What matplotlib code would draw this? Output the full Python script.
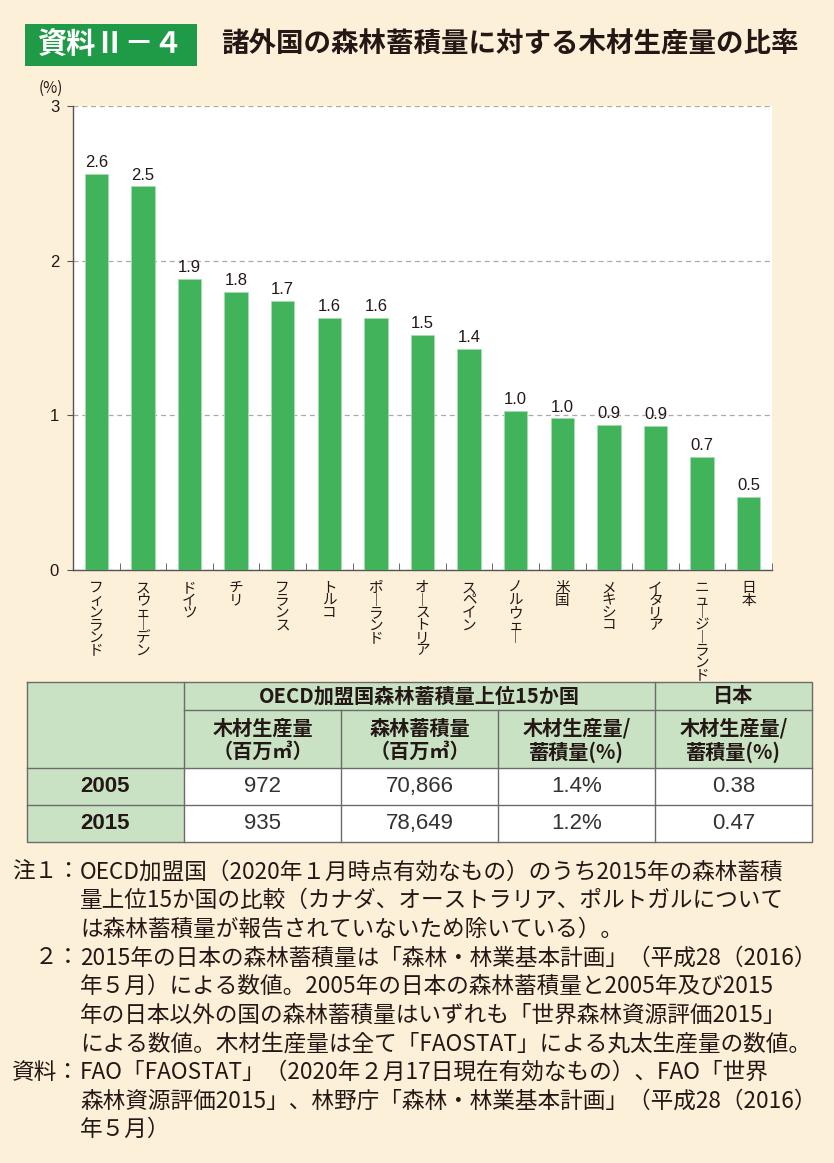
import matplotlib.pyplot as plt
from matplotlib.patches import Rectangle
import numpy as np

plt.rcParams['font.family'] = ['Noto Sans CJK JP', 'DejaVu Sans']
NUM_FONT = ['Liberation Sans', 'DejaVu Sans']

# bar chart data
countries = ['フィンランド', 'スウェーデン', 'ドイツ', 'チリ', 'フランス', 'トルコ', 'ポーランド',
             'オーストリア', 'スペイン', 'ノルウェー', '米国', 'メキシコ', 'イタリア',
             'ニュージーランド', '日本']
ratio = [2.56, 2.48, 1.88, 1.80, 1.74, 1.63, 1.63, 1.52, 1.43, 1.03, 0.98, 0.94, 0.93, 0.73, 0.47]

# table data
years = ['2005', '2015']
wood_prod = ['972', '935']
forest_stock = ['70,866', '78,649']
oecd_ratio = ['1.4%', '1.2%']
japan_ratio = ['0.38', '0.47']

notes = [
    ('注１：', ['OECD加盟国（2020年１月時点有効なもの）のうち2015年の森林蓄積',
              '量上位15か国の比較（カナダ、オーストラリア、ポルトガルについて',
              'は森林蓄積量が報告されていないため除いている）。']),
    ('２：', ['2015年の日本の森林蓄積量は「森林・林業基本計画」（平成28（2016）',
             '年５月）による数値。2005年の日本の森林蓄積量と2005年及び2015',
             '年の日本以外の国の森林蓄積量はいずれも「世界森林資源評価2015」',
             'による数値。木材生産量は全て「FAOSTAT」による丸太生産量の数値。']),
    ('資料：', ['FAO「FAOSTAT」（2020年２月17日現在有効なもの）、FAO「世界',
              '森林資源評価2015」、林野庁「森林・林業基本計画」（平成28（2016）',
              '年５月）']),
]

W, H = 834, 1163
BG = '#fdf0d8'
GREEN = '#41b35b'
TXT = '#231815'
HEAD = '#c9e2c3'


def fx(px):
    return px / W


def fy(py):
    return 1 - py / H


fig = plt.figure(figsize=(W / 100, H / 100), dpi=100, facecolor=BG)

# title block
fig.patches.append(Rectangle((fx(25), fy(66)), fx(197) - fx(25), fy(24) - fy(66),
                             transform=fig.transFigure, facecolor='#1f9b48', edgecolor='none'))
fig.text(fx(111), fy(45), '資料Ⅱ－４', color='white', fontsize=21, fontweight='bold',
         ha='center', va='center')
fig.text(fx(221), fy(45), '諸外国の森林蓄積量に対する木材生産量の比率', color=TXT,
         fontsize=19.8, fontweight='bold', ha='left', va='center')

# bar chart
ax = fig.add_axes([fx(73), fy(570), fx(772) - fx(73), fy(106) - fy(570)])
ax.set_facecolor('white')
x = np.arange(len(countries))
ax.bar(x, ratio, width=0.5, color=GREEN, edgecolor='#a8dcb2', linewidth=0.6, zorder=3)
for xi, v in zip(x, ratio):
    ax.text(xi, v + 0.025, f'{v:.1f}', ha='center', va='bottom', fontsize=12,
            family=NUM_FONT, color=TXT)

ax.set_xlim(-0.5, len(countries) - 0.5)
ax.set_ylim(0, 3)
ax.set_yticks([0, 1, 2, 3])
ax.set_yticklabels(['0', '1', '2', '3'], fontsize=12, family=NUM_FONT, color=TXT)
ax.tick_params(axis='y', length=4, color='#555555', pad=6)
ax.grid(axis='y', linestyle=(0, (4, 3)), color='#aaaaaa', linewidth=0.9, zorder=1)

vert_labels = ['\n'.join(c.replace('ー', '︱')) for c in countries]
ax.set_xticks(x)
ax.set_xticklabels(vert_labels, fontsize=10.5, color=TXT, linespacing=0.86, va='top')
ax.set_xticks(np.arange(len(countries)) + 0.5, minor=True)
ax.tick_params(axis='x', which='major', length=0, pad=8)
ax.tick_params(axis='x', which='minor', direction='in', length=5, color='#555555')

for s in ['top', 'right']:
    ax.spines[s].set_visible(False)
for s in ['left', 'bottom']:
    ax.spines[s].set_color('#555555')
    ax.spines[s].set_linewidth(1.0)

fig.text(fx(51), fy(88), '(%)', fontsize=11, ha='center', va='center', color=TXT)

# table (drawn in pixel coordinates)
tax = fig.add_axes([0, 0, 1, 1])
tax.set_xlim(0, W)
tax.set_ylim(H, 0)
tax.axis('off')

cx = [27, 184, 341, 498, 655, 812]
ry = [682, 710, 768, 805, 842]
tax.add_patch(Rectangle((cx[0], ry[0]), cx[-1] - cx[0], ry[2] - ry[0], facecolor=HEAD, edgecolor='none'))
tax.add_patch(Rectangle((cx[0], ry[2]), cx[1] - cx[0], ry[4] - ry[2], facecolor=HEAD, edgecolor='none'))
tax.add_patch(Rectangle((cx[1], ry[2]), cx[-1] - cx[1], ry[4] - ry[2], facecolor='white', edgecolor='none'))

lc = '#6b6b6b'
lw = 1.0
tax.plot([cx[0], cx[-1], cx[-1], cx[0], cx[0]], [ry[0], ry[0], ry[4], ry[4], ry[0]], color=lc, lw=lw)
tax.plot([cx[1], cx[-1]], [ry[1], ry[1]], color=lc, lw=lw)
for yy in ry[2:4]:
    tax.plot([cx[0], cx[-1]], [yy, yy], color=lc, lw=lw)
for xx in [cx[1], cx[4]]:
    tax.plot([xx, xx], [ry[0], ry[4]], color=lc, lw=lw)
for xx in cx[2:4]:
    tax.plot([xx, xx], [ry[1], ry[4]], color=lc, lw=lw)

hs = 14.5
tax.text((cx[1] + cx[4]) / 2, (ry[0] + ry[1]) / 2, 'OECD加盟国森林蓄積量上位15か国',
         ha='center', va='center', fontsize=hs, fontweight='bold', color=TXT)
tax.text((cx[4] + cx[5]) / 2, (ry[0] + ry[1]) / 2, '日本',
         ha='center', va='center', fontsize=hs, fontweight='bold', color=TXT)
sub_heads = ['木材生産量\n（百万㎥）', '森林蓄積量\n（百万㎥）', '木材生産量/\n蓄積量(%)', '木材生産量/\n蓄積量(%)']
for i, t in enumerate(sub_heads):
    tax.text((cx[i + 1] + cx[i + 2]) / 2, (ry[1] + ry[2]) / 2 + 1, t, ha='center', va='center',
             fontsize=hs, fontweight='bold', color=TXT, linespacing=1.15)

for r in range(len(years)):
    yc = (ry[r + 2] + ry[r + 3]) / 2
    tax.text((cx[0] + cx[1]) / 2, yc, years[r], ha='center', va='center',
             fontsize=16, fontweight='bold', family=NUM_FONT, color=TXT)
    row = [wood_prod[r], forest_stock[r], oecd_ratio[r], japan_ratio[r]]
    for i, t in enumerate(row):
        tax.text((cx[i + 1] + cx[i + 2]) / 2, yc, t, ha='center', va='center',
                 fontsize=16, family=NUM_FONT, color='#333333')

# notes
ns = 16.3
y0 = 872
step = 28.6
k = 0
for label, lines in notes:
    tax.text(80, y0 + k * step, label, ha='right', va='center', fontsize=ns, color=TXT)
    for line in lines:
        tax.text(80, y0 + k * step, line, ha='left', va='center', fontsize=ns, color=TXT)
        k += 1

fig.savefig('out.png', dpi=100, facecolor=BG)
